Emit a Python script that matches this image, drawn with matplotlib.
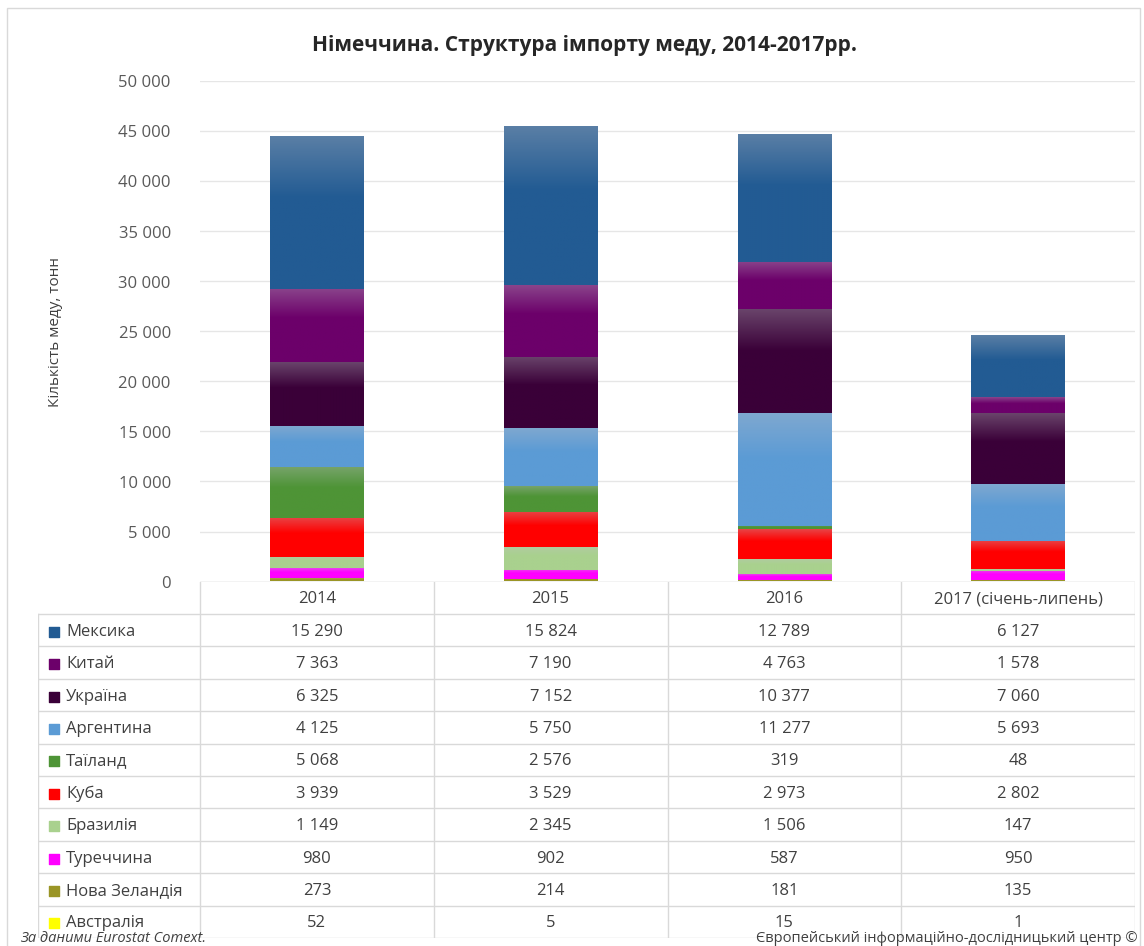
import numpy as np
import matplotlib
matplotlib.use("Agg")
import matplotlib.pyplot as plt
from matplotlib.colors import to_rgb

plt.rcParams['font.family'] = ['Open Sans', 'DejaVu Sans']

years = ['2014', '2015', '2016', '2017 (січень-липень)']
countries = ['Мексика', 'Китай', 'Україна', 'Аргентина', 'Таїланд',
             'Куба', 'Бразилія', 'Туреччина', 'Нова Зеландія', 'Австралія']
mexico = [15290, 15824, 12789, 6127]
china = [7363, 7190, 4763, 1578]
ukraine = [6325, 7152, 10377, 7060]
argentina = [4125, 5750, 11277, 5693]
thailand = [5068, 2576, 319, 48]
cuba = [3939, 3529, 2973, 2802]
brazil = [1149, 2345, 1506, 147]
turkey = [980, 902, 587, 950]
new_zealand = [273, 214, 181, 135]
australia = [52, 5, 15, 1]
series = [mexico, china, ukraine, argentina, thailand,
          cuba, brazil, turkey, new_zealand, australia]
colors = ['#225b93', '#6c006a', '#3a0038', '#5b9bd5', '#4e9436',
          '#ff0000', '#a9d18e', '#ff00ff', '#9a9526', '#ffff00']
yticks = [0, 5000, 10000, 15000, 20000, 25000, 30000, 35000, 40000, 45000, 50000]


def fmt(v):
    return f"{v:,}".replace(",", " ")


W, H = 1144, 946
fig = plt.figure(figsize=(W / 100, H / 100), dpi=100)

def px_axes(x0, y0, x1, y1):
    return fig.add_axes([x0 / W, 1 - y1 / H, (x1 - x0) / W, (y1 - y0) / H])

# outer chart border
fig.patches.append(plt.Rectangle((7 / W, -0.01), (1133) / W, 1 - 8 / H + 0.01,
                                 transform=fig.transFigure, fill=False,
                                 edgecolor='#d9d9d9', lw=1))

ax = px_axes(200, 81.5, 1135, 581.5)
x = np.arange(len(years))
bottom = np.zeros(len(years))
# stack from the bottom (Австралія) up to Мексика, with excel-like gradient
for name, vals, col in reversed(list(zip(countries, series, colors))):
    bars = ax.bar(x, vals, width=0.40, bottom=bottom, color=col, zorder=2)
    base = np.array(to_rgb(col))
    light = base + (np.array([0.75, 0.75, 0.78]) - base) * 0.35
    for r in bars:
        r.set_visible(False)
        h = r.get_height()
        if h <= 0:
            continue
        t = np.linspace(0, 1, 64)[:, None]
        w = np.clip((t - 0.6) / 0.4, 0, 1)
        img = base[None, :] * (1 - w) + light[None, :] * w
        ax.imshow(img[:, None, :], extent=[r.get_x(), r.get_x() + r.get_width(),
                                           r.get_y(), r.get_y() + h],
                  origin='lower', aspect='auto', zorder=2, interpolation='bilinear')
    bottom += np.array(vals)

ax.set_xlim(-0.5, 3.5)
ax.set_ylim(0, 50000)
ax.set_yticks(yticks)
ax.set_yticklabels([fmt(v) for v in yticks], fontsize=12, color='#595959')
ax.set_xticks([])
ax.tick_params(axis='y', length=0, pad=21)
ax.grid(axis='y', color='#e6e6e6', lw=1, zorder=0)
for s in ax.spines.values():
    s.set_visible(False)
ax.axhline(0, color='#d9d9d9', lw=1, zorder=3)
ax.set_ylabel('Кількість меду, тонн', fontsize=11, color='#404040', labelpad=40)

fig.text(585 / W, 1 - 45 / H, 'Німеччина. Структура імпорту меду, 2014-2017рр.',
         ha='center', va='center', fontsize=15, fontweight='bold', color='#262626')

# data table under the bars
leg_w = 162 / 233.75
tax = px_axes(38, 581.5, 1135, 938)
tax.set_xlim(-0.5 - leg_w, 3.5)
tax.set_ylim(len(countries) + 1, 0)
tax.axis('off')
line = dict(color='#d9d9d9', lw=1)
for i in range(1, len(countries) + 2):
    tax.plot([-0.5 - leg_w, 3.5], [i, i], **line)
for xv in [-0.5, 0.5, 1.5, 2.5, 3.5]:
    tax.plot([xv, xv], [0, len(countries) + 1], **line)
tax.plot([-0.5 - leg_w] * 2, [1, len(countries) + 1], **line)
for j, yr in enumerate(years):
    tax.text(j, 0.55, yr, ha='center', va='center', fontsize=12, color='#404040')
for i, (name, vals, col) in enumerate(zip(countries, series, colors)):
    row = i + 1.55
    tax.scatter([-0.5 - leg_w + 0.07], [row], marker='s', s=55, color=col, clip_on=False)
    tax.text(-0.5 - leg_w + 0.12, row, name, ha='left', va='center',
             fontsize=12, color='#404040')
    for j, v in enumerate(vals):
        tax.text(j, row, fmt(v), ha='center', va='center', fontsize=12, color='#404040')

fig.text(20 / W, 1 - 938 / H, 'За даними Eurostat Comext.', ha='left', va='center',
         fontsize=10.5, style='italic', color='#404040')
fig.text(1138 / W, 1 - 938 / H, 'Європейський інформаційно-дослідницький центр ©',
         ha='right', va='center', fontsize=10.5, color='#404040')

fig.savefig('out.png', dpi=100, facecolor='white')
